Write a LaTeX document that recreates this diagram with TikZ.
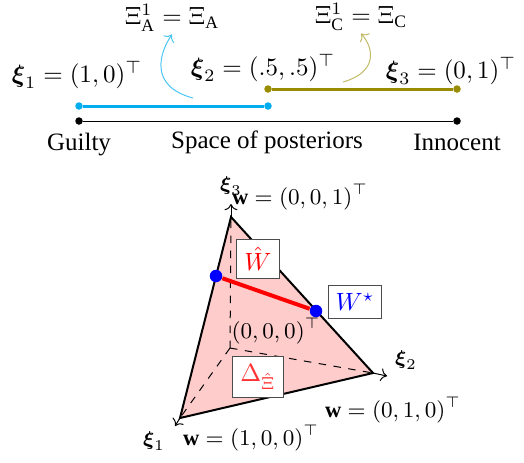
\documentclass[tikz,border=0pt]{standalone}
\usepackage{amsmath, amssymb}
\usepackage{fontspec}
\setmainfont{Liberation Serif}
\usetikzlibrary{positioning,arrows.meta}
\definecolor{postcyan}{RGB}{0,174,239}
\definecolor{postolive}{RGB}{153,140,0}

\begin{document}
\begin{tikzpicture}[
    x=0.4pt, y=-0.4pt,
    >=To,
    pt/.style={circle,fill,inner sep=0pt,minimum size=3pt},
    bigpt/.style={circle,fill=blue,inner sep=0pt,minimum size=5pt},
    lbl/.style={draw=black!70,fill=white,inner sep=3pt},
    ax/.style={font=\small},
  ]
  \useasboundingbox (0,0) rectangle (524,462);

  % Space of posteriors
  \node[pt] (g) at (79,121) {};
  \node[pt] (i) at (457,121) {};
  \draw (g) -- (i);
  \node[anchor=base] (guilty) at (79,150) {Guilty};
  \node[anchor=base] (space) at (267,148) {Space of posteriors};
  \node[anchor=base] (innocent) at (457,150) {Innocent};

  % Signal A
  \node[pt,postcyan] (a1) at (79,106) {};
  \node[pt,postcyan] (a2) at (268,106) {};
  \draw[postcyan,line width=1.2pt] (a1) -- (a2);

  % Signal C
  \node[pt,postolive] (c1) at (268,89) {};
  \node[pt,postolive] (c2) at (457,89) {};
  \draw[postolive,line width=1.2pt] (c1) -- (c2);

  % Posteriors
  \node (x1) at (77,75) {$\boldsymbol{\xi}_1 = (1,0)^\top$};
  \node (x2) at (263,68) {$\boldsymbol{\xi}_2 = (.5,.5)^\top$};
  \node (x3) at (451,71) {$\boldsymbol{\xi}_3 = (0,1)^\top$};

  % Sets
  \node[inner sep=1pt] (xiA) at (172,18) {$\Xi^1_{\mathrm{A}} = \Xi_{\mathrm{A}}$};
  \node[inner sep=1pt] (xiC) at (361,17) {$\Xi^1_{\mathrm{C}} = \Xi_{\mathrm{C}}$};
  \coordinate (sA) at (193,98);
  \coordinate (sC) at (343,82);
  \draw[->,postcyan!70] (sA) .. controls (148,86) and (160,52) .. (xiA.south);
  \draw[->,postolive!60] (sC) .. controls (378,72) and (374,48) .. (xiC.south);

  % Simplex
  \coordinate (O) at (230,348);
  \coordinate (v1) at (180,418);
  \coordinate (v2) at (373,373);
  \coordinate (v3) at (231,217);
  \coordinate (t1) at (175,426);
  \coordinate (t2) at (387,376);
  \coordinate (t3) at (231,204);
  \fill[red!20] (v1) -- (v2) -- (v3) -- cycle;
  \draw[dashed] (O) -- (v1) (O) -- (v2) (O) -- (v3);
  \draw[->] (v1) -- (t1);
  \draw[->] (v2) -- (t2);
  \draw[->] (v3) -- (t3);
  \draw[thick] (v1) -- (v2) -- (v3) -- cycle;

  % Axis labels
  \node[font=\footnotesize] (l1) at (154,441) {$\boldsymbol{\xi}_1$};
  \node[font=\footnotesize] (l2) at (406,360) {$\boldsymbol{\xi}_2$};
  \node[font=\footnotesize] (l3) at (231,186) {$\boldsymbol{\xi}_3$};
  \node[ax] (w1) at (251,438) {$\mathbf{w} = (1,0,0)^\top$};
  \node[ax] (w2) at (393,410) {$\mathbf{w} = (0,1,0)^\top$};
  \node[ax] (w3) at (300,197) {$\mathbf{w} = (0,0,1)^\top$};

  % Segment
  \node[bigpt] (bw) at (216,276) {};
  \node[bigpt] (bs) at (316,311) {};
  \draw[red,line width=1.6pt] (bw) -- (bs);
  \node[ax] (o) at (276,331) {$(0,0,0)^\top$};

  \node[lbl,text=red] (hw) at (258,259) {$\hat{W}$};
  \node[lbl,text=blue] (ws) at (355,302) {$W^\star$};
  \node[lbl,text=red!80] (dl) at (258,377) {$\Delta_{\hat{\Xi}}$};
\end{tikzpicture}
\end{document}
